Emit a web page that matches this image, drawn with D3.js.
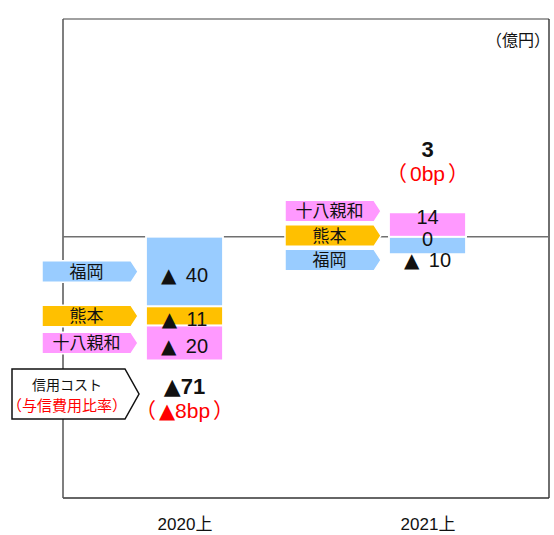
<!DOCTYPE html>
<html><head><meta charset="utf-8">
<script src="https://cdn.jsdelivr.net/npm/d3@7"></script>
<style>
body{margin:0;background:#fff;}
text{font-family:"Liberation Sans","Noto Sans CJK JP",Arial,sans-serif;}
</style></head>
<body><svg id="c" width="554" height="535"></svg>
<script>
const categories = ["2020上", "2021上"];
const banks = ["福岡", "熊本", "十八親和"];
const fukuoka = [-40, -10];
const kumamoto = [-11, 0];
const juhachi = [-20, 14];
const totals = [-71, 3];
const totalBp = [-8, 0];
const unitLabel = "（億円）";
const costLabel = ["信用コスト", "（与信費用比率）"];
const colors = {"福岡": "#99ccff", "熊本": "#ffc000", "十八親和": "#ff99ff"};

const svg = d3.select("#c");
const L = 63, R = 549, T = 19, B = 498;
const x = d3.scalePoint().domain(categories).range([L, R]).padding(0.5);
const y = d3.scaleLinear().domain([-150, 125]).range([B, T]);
const barW = 77;

const rows = categories.map((c, i) => ({cat: c, "福岡": fukuoka[i], "熊本": kumamoto[i], "十八親和": juhachi[i]}));
const series = d3.stack().keys(banks).offset(d3.stackOffsetDiverging)(rows);

// write text with per-run fonts: ▲ in DejaVu Sans, fullwidth parens in CJK
function runs(sel, str, triGap) {
  const parts = str.match(/▲|[（）]|[^▲（）]+/g) || [];
  let prev = null;
  parts.forEach(p => {
    const t = sel.append("tspan").text(p);
    if (p === "▲") t.attr("font-family", "'DejaVu Sans',sans-serif");
    else if (p === "（" || p === "）") t.attr("font-family", "'Noto Sans CJK JP',sans-serif");
    if (prev === "（") t.attr("dx", 3);
    if (p === "）") t.attr("dx", 3);
    if (prev === "▲" && triGap) t.attr("dx", triGap);
    prev = p;
  });
  return sel;
}

// frame
svg.append("line").attr("x1", L).attr("x2", R).attr("y1", T).attr("y2", T).attr("stroke", "#808080").attr("stroke-width", 1.3);
svg.append("line").attr("x1", R).attr("x2", R).attr("y1", T).attr("y2", B).attr("stroke", "#222").attr("stroke-width", 1.3);
svg.append("line").attr("x1", L).attr("x2", R).attr("y1", B).attr("y2", B).attr("stroke", "#333").attr("stroke-width", 1.3);
svg.append("line").attr("x1", L).attr("x2", L).attr("y1", T).attr("y2", B).attr("stroke", "#555").attr("stroke-width", 1.5);

// zero line
svg.append("line").attr("x1", L).attr("x2", R).attr("y1", y(0)).attr("y2", y(0)).attr("stroke", "#707070").attr("stroke-width", 1.5);

// bars
series.forEach(s => {
  svg.append("g").selectAll("rect").data(s).join("rect")
    .attr("x", d => x(d.data.cat) - barW / 2)
    .attr("width", barW)
    .attr("y", d => y(Math.max(d[0], d[1])))
    .attr("height", d => Math.abs(y(d[0]) - y(d[1])))
    .attr("fill", colors[s.key])
    .attr("stroke", "#fff").attr("stroke-width", 1.8);
});

function spread(items, gap) {
  items.sort((a, b) => a.y - b.y);
  let ok = true;
  for (let i = 1; i < items.length; i++) if (items[i].y - items[i - 1].y < gap) ok = false;
  if (!ok) {
    const m = d3.mean(items, d => d.y);
    items.forEach((d, i) => d.y = m + (i - (items.length - 1) / 2) * gap);
  }
  return items;
}

const fmt = v => v < 0 ? "▲\u00A0" + (-v) : String(v);

categories.forEach((c, ci) => {
  const items = series.map(s => ({key: s.key, v: s[ci].data[s.key], y: (y(s[ci][0]) + y(s[ci][1])) / 2}));
  const tags = spread(items.map(d => ({...d})), 24.5);
  const vals = spread(items.map(d => ({...d})), 21.5);
  const cx = x(c);
  const tipX = cx - barW / 2 - 8, tw = 96, th = 21.5, pd = 7;
  const tg = svg.append("g");
  tags.forEach(t => {
    const x0 = tipX - tw, y0 = t.y - th / 2;
    tg.append("path")
      .attr("d", `M${x0},${y0}H${tipX - pd}L${tipX},${t.y}L${tipX - pd},${y0 + th}H${x0}Z`)
      .attr("fill", colors[t.key]).attr("stroke", "#fff").attr("stroke-width", 1.5);
    tg.append("text").attr("x", x0 + (tw - pd) / 2).attr("y", t.y).attr("dy", "0.36em")
      .attr("text-anchor", "middle").attr("font-size", 17).attr("fill", "#111")
      .attr("font-family", "'Noto Sans CJK JP',sans-serif").text(t.key);
  });
  vals.forEach(t => {
    runs(svg.append("text").attr("x", cx).attr("y", t.y).attr("dy", "0.5em")
      .attr("text-anchor", "middle").attr("font-size", 20).attr("fill", "#111"), fmt(t.v), 4);
  });
  // totals
  const lo = d3.min(series, s => s[ci][0]), hi = d3.max(series, s => s[ci][1]);
  const tot = totals[ci];
  let b1, b2;
  if (tot < 0) { b1 = y(lo) + 34; b2 = b1 + 24; }
  else { b2 = y(hi) - 31; b1 = b2 - 24; }
  runs(svg.append("text").attr("x", cx).attr("y", b1).attr("text-anchor", "middle")
    .attr("font-size", 22).attr("font-weight", "bold").attr("fill", "#111"),
    tot < 0 ? "▲" + (-tot) : String(tot));
  const bp = totalBp[ci];
  runs(svg.append("text").attr("x", cx).attr("y", b2).attr("text-anchor", "middle")
    .attr("font-size", 21).attr("fill", "#ff0000"),
    "（" + (bp < 0 ? "▲" + (-bp) : bp) + "bp）");
});

// credit cost callout
{
  const x0 = 12, x1 = 125, tip = 139, y0 = 369, y1 = 419, ym = (y0 + y1) / 2;
  svg.append("path").attr("d", `M${x0},${y0}H${x1}L${tip},${ym}L${x1},${y1}H${x0}Z`)
    .attr("fill", "#fff").attr("stroke", "#111").attr("stroke-width", 1.5);
  svg.append("text").attr("x", 67).attr("y", 385).attr("dy", "0.36em").attr("text-anchor", "middle")
    .attr("font-size", 14).attr("fill", "#111").attr("font-family", "'Noto Sans CJK JP',sans-serif").text(costLabel[0]);
  svg.append("text").attr("x", 67).attr("y", 406).attr("dy", "0.36em").attr("text-anchor", "middle")
    .attr("font-size", 15).attr("fill", "#ff0000").attr("font-family", "'Noto Sans CJK JP',sans-serif").text(costLabel[1]);
}

// unit label
svg.append("text").attr("x", 550).attr("y", 40).attr("dy", "0.36em").attr("text-anchor", "end")
  .attr("font-size", 16).attr("fill", "#111").attr("font-family", "'Noto Sans CJK JP',sans-serif").text(unitLabel);

// category axis
const ax = svg.append("g").attr("transform", `translate(0,${B})`)
  .call(d3.axisBottom(x).tickSize(0));
ax.select(".domain").remove();
ax.selectAll("text").attr("y", 32).attr("dy", 0).attr("font-size", 17).attr("fill", "#111")
  .attr("font-family", "'Liberation Sans','Noto Sans CJK JP',sans-serif");
</script></body></html>
